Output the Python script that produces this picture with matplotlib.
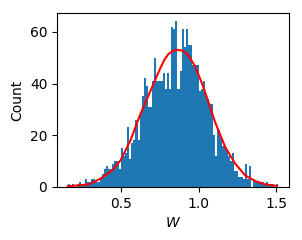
import numpy as np
import matplotlib
matplotlib.use("Agg")
from matplotlib import pyplot as plt

# histogram of W, 100 equal bins between bin_lo and bin_hi
bin_lo = 0.158
bin_hi = 1.514
counts = [1, 0, 1, 0, 1, 2, 1, 1, 3, 2,
          2, 3, 3, 2, 2, 3, 5, 7, 8, 7,
          7, 9, 10, 10, 7, 15, 12, 13, 23, 11,
          17, 18, 26, 18, 29, 35, 42, 39, 31, 31,
          41, 50, 41, 41, 41, 44, 38, 44, 38, 62,
          61, 64, 38, 45, 61, 54, 61, 55, 55, 47,
          47, 47, 37, 38, 41, 35, 34, 32, 32, 20,
          12, 22, 19, 16, 16, 14, 12, 10, 13, 6,
          6, 4, 4, 3, 9, 3, 8, 0, 3, 2,
          2, 2, 2, 1, 2, 1, 1, 1, 0, 1]

# fitted density curve (scaled to counts)
curve_x = [0.155, 0.292, 0.367, 0.442, 0.496, 0.560, 0.624, 0.688, 0.720,
           0.753, 0.780, 0.806, 0.835, 0.864, 0.895, 0.924, 0.950, 0.978,
           1.031, 1.106, 1.171, 1.235, 1.299, 1.363, 1.428, 1.503]
curve_y = [0.25, 1.0, 3.2, 6.4, 10.3, 18.0, 28.2, 37.0, 41.5,
           46.0, 49.3, 51.5, 52.7, 53.0, 52.7, 51.5, 49.3, 46.5,
           38.5, 25.0, 15.4, 9.0, 4.5, 2.3, 1.0, 0.4]

edges = np.linspace(bin_lo, bin_hi, len(counts) + 1)

fig = plt.figure(figsize=(3.02, 2.40), dpi=100)
ax = fig.add_axes([0.189, 0.221, 0.768, 0.724])
ax.hist(edges[:-1], bins=edges, weights=counts, color='#1f77b4')
ax.plot(curve_x, curve_y, c='r')
ax.set_xlabel('$W$')
ax.set_ylabel('Count')
ax.set_xticks([0.5, 1.0, 1.5])
ax.set_yticks([0, 20, 40, 60])

fig.savefig('out.png', dpi=100)
